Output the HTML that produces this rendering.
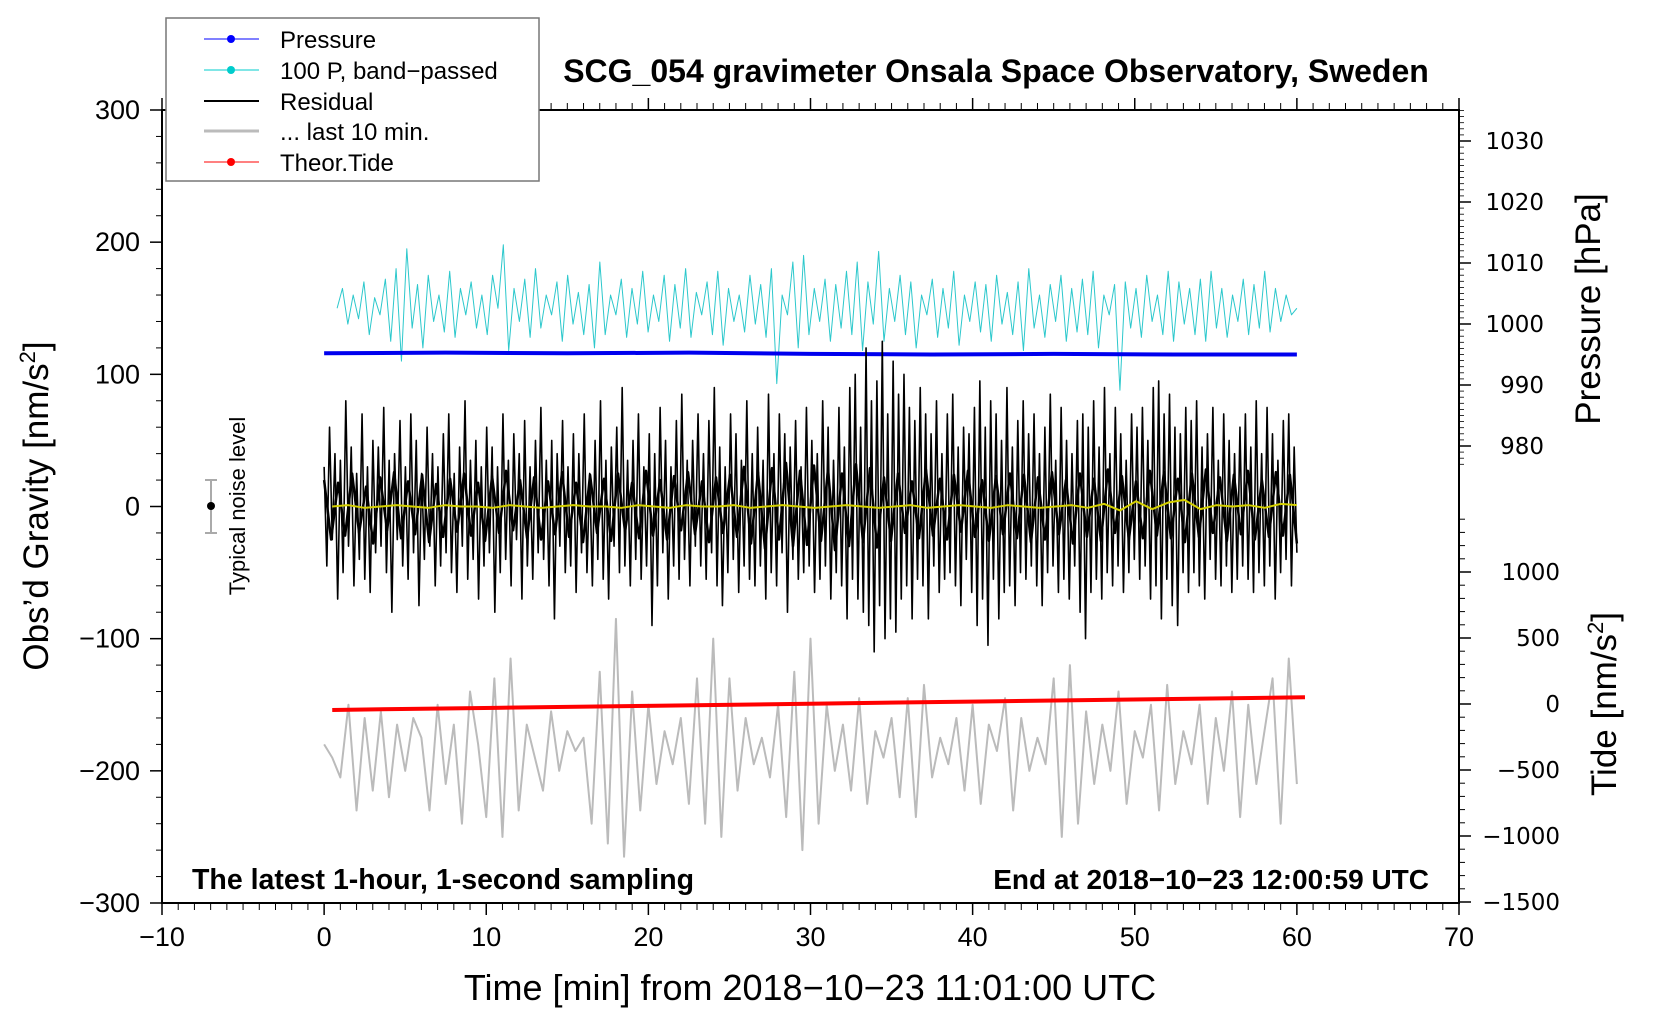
<!DOCTYPE html>
<html><head><meta charset="utf-8"><style>
html,body{margin:0;padding:0;background:#fff;}
svg{display:block;font-family:"Liberation Sans",Arial,sans-serif;}
</style></head><body>
<svg id="chart" width="1660" height="1020" viewBox="0 0 1660 1020" xmlns="http://www.w3.org/2000/svg">
<rect width="1660" height="1020" fill="#fff"/>
<g id="series"></g>
<g id="axes"></g>
<rect x="162" y="110" width="1297" height="793" fill="none" stroke="#000" stroke-width="2"/>
<text x="996" y="82" font-size="32" font-weight="bold" text-anchor="middle">SCG_054 gravimeter Onsala Space Observatory, Sweden</text>
<text x="810" y="1000" font-size="36" text-anchor="middle">Time [min] from 2018−10−23 11:01:00 UTC</text>
<text transform="translate(48,506) rotate(-90)" font-size="35" text-anchor="middle">Obs’d Gravity [nm/s<tspan font-size="22" dy="-13">2</tspan><tspan dy="13">]</tspan></text>
<text transform="translate(1600,309) rotate(-90)" font-size="35" text-anchor="middle">Pressure [hPa]</text>
<text transform="translate(1616,704) rotate(-90)" font-size="35" text-anchor="middle">Tide [nm/s<tspan font-size="22" dy="-13">2</tspan><tspan dy="13">]</tspan></text>
<text x="192" y="889" font-size="28.5" font-weight="bold">The latest 1-hour, 1-second sampling</text>
<text x="1429" y="889" font-size="28" font-weight="bold" text-anchor="end">End at 2018−10−23 12:00:59 UTC</text>
<g>
<line x1="211" y1="480" x2="211" y2="533" stroke="#aaa" stroke-width="2"/>
<line x1="205" y1="480" x2="217" y2="480" stroke="#aaa" stroke-width="2"/>
<line x1="205" y1="533" x2="217" y2="533" stroke="#aaa" stroke-width="2"/>
<circle cx="211" cy="506" r="4" fill="#000"/>
<text transform="translate(245,506) rotate(-90)" font-size="22" text-anchor="middle">Typical noise level</text>
</g>
<g>
<rect x="166" y="18" width="373" height="163" fill="#fff" stroke="#777" stroke-width="1.5"/>
<g><line x1="204" y1="39" x2="259" y2="39" stroke="#00f" stroke-width="1"/><circle cx="231" cy="39" r="4" fill="#00f"/><text x="280" y="48" font-size="24">Pressure</text></g>
<g><line x1="204" y1="70" x2="259" y2="70" stroke="#0cc" stroke-width="1"/><circle cx="231" cy="70" r="4" fill="#0cc"/><text x="280" y="79" font-size="24">100 P, band−passed</text></g>
<g><line x1="204" y1="101" x2="259" y2="101" stroke="#000" stroke-width="2"/><text x="280" y="110" font-size="24">Residual</text></g>
<g><line x1="204" y1="131" x2="259" y2="131" stroke="#bbb" stroke-width="3"/><text x="280" y="140" font-size="24">... last 10 min.</text></g>
<g><line x1="204" y1="162" x2="259" y2="162" stroke="#f00" stroke-width="1"/><circle cx="231" cy="162" r="4" fill="#f00"/><text x="280" y="171" font-size="24">Theor.Tide</text></g>
</g>
</svg>
<script>
const xTicks=[-10,0,10,20,30,40,50,60,70];
const gTicks=[-300,-200,-100,0,100,200,300];
const pTicks=[980,990,1000,1010,1020,1030];
const tTicks=[-1500,-1000,-500,0,500,1000];
const residual=[30,-45,60,-25,40,-70,35,-50,80,-30,45,-60,25,-40,70,-55,30,-65,50,-35,
45,-30,75,-50,35,-80,40,-25,65,-45,30,-55,70,-35,50,-75,25,-40,60,-30,
40,-60,30,-45,55,-35,70,-50,25,-65,45,-30,80,-55,35,-40,50,-70,30,-45,
60,-35,45,-80,30,-50,70,-40,35,-60,55,-25,40,-70,65,-45,30,-55,50,-35,
75,-40,35,-60,50,-85,40,-30,65,-50,30,-45,55,-65,40,-35,70,-50,25,-60,
50,-40,80,-55,35,-70,45,-30,60,-50,90,-45,35,-60,50,-40,70,-55,30,-45,
55,-90,40,-60,75,-35,50,-70,30,-45,65,-55,85,-40,35,-60,50,-30,70,-45,
40,-55,65,-35,90,-60,45,-75,30,-50,70,-40,55,-65,35,-45,80,-55,40,-60,
60,-45,35,-70,85,-50,40,-60,70,-35,55,-80,45,-40,65,-55,30,-50,75,-45,
50,-65,40,-55,80,-45,60,-70,35,-50,75,-60,45,-85,90,-55,100,-70,60,-80,
120,-90,80,-110,95,-75,125,-100,70,-85,110,-95,85,-70,100,-60,75,-85,65,-55,
90,-60,70,-85,55,-45,80,-65,40,-55,70,-50,85,-60,45,-75,60,-40,55,-65,
75,-90,95,-70,60,-105,80,-55,70,-85,50,-65,90,-60,45,-75,65,-50,80,-55,
55,-45,70,-60,40,-75,60,-50,85,-45,35,-65,75,-55,50,-70,40,-45,65,-80,
70,-100,60,-65,80,-55,45,-70,90,-50,40,-60,75,-45,55,-65,35,-50,70,-40,
60,-55,75,-45,50,-70,90,-60,95,-85,70,-55,85,-75,60,-90,55,-50,75,-65,
65,-50,80,-60,45,-70,55,-40,75,-55,35,-60,70,-45,50,-65,40,-55,60,-45,
70,-55,45,-65,80,-50,40,-60,75,-45,55,-70,35,-50,65,-40,70,-60,45,-35];
const residualCore=[20,-25,18,-22,25,-20,15,-28,22,-18,26,-24,19,-21,24,-27,17,-23,21,-19,
25,-22,18,-26,23,-20,27,-18,20,-24,22,-25,19,-21,26,-23,18,-27,24,-20,
21,-26,25,-19,18,-24,27,-22,20,-25,23,-18,26,-21,19,-27,22,-20,24,-23,
30,-28,26,-32,29,-25,33,-30,27,-29,31,-26,28,-33,25,-30,32,-27,29,-31,
22,-26,25,-20,19,-24,28,-22,21,-25,24,-19,27,-23,20,-26,23,-21,25,-24,
24,-27,22,-25,26,-21,20,-28,25,-23,21,-26,28,-20,23,-25,19,-24,27,-22,
26,-24,21,-27,25,-23,28,-20,22,-26,24,-21,27,-25,20,-23,26,-22,24,-28];
const bandPassed=[150,165,138,160,142,170,130,158,145,172,125,180,110,195,135,168,120,175,140,160,
132,178,128,165,145,170,135,160,130,175,150,198,118,165,140,172,128,180,135,160,
145,170,125,175,138,162,130,168,120,185,130,160,145,172,128,165,138,178,132,160,
140,175,125,168,135,180,128,162,145,170,130,178,122,165,140,160,132,175,138,168,
128,180,93,160,145,185,120,190,130,165,140,172,125,168,135,178,130,185,118,170,
138,193,125,165,140,175,130,170,120,160,145,172,128,165,135,178,122,160,140,170,
132,168,125,175,138,162,130,170,118,180,135,160,128,168,140,175,125,165,132,172,
130,178,120,160,145,168,88,170,135,165,128,175,140,160,130,178,125,170,138,165,
130,172,125,178,135,165,128,160,140,172,130,168,135,178,132,165,140,160,145,150];
const pressure=[995.2,995.3,995.2,995.3,995.1,995.0,995.1,995.0,995.0];
const last10=[-180,-190,-205,-150,-230,-160,-215,-155,-220,-165,-200,-160,-175,-230,-150,-210,-165,-240,-140,-180,
-235,-130,-250,-115,-230,-165,-190,-215,-155,-200,-170,-185,-175,-240,-125,-255,-85,-265,-140,-230,
-150,-210,-170,-195,-160,-225,-130,-240,-100,-250,-130,-215,-160,-195,-175,-205,-150,-235,-125,-260,
-100,-240,-150,-200,-165,-215,-145,-225,-170,-190,-160,-220,-145,-235,-135,-205,-175,-195,-160,-215,
-150,-225,-165,-185,-145,-230,-160,-200,-175,-195,-130,-250,-120,-240,-155,-210,-165,-200,-140,-225,
-170,-190,-150,-230,-135,-210,-170,-195,-150,-225,-160,-200,-140,-235,-150,-210,-170,-130,-240,-115,-210];
const smoothed=[0,1,-1,0,1,0,-1,1,0,0,-1,1,0,-1,0,1,0,0,-1,1,0,-1,1,0,0,1,-1,0,1,0,-1,0,1,0,-1,0,1,-1,0,1,0,-1,1,0,-1,0,1,-1,2,-3,4,-2,3,5,-2,1,0,1,-1,2,1];
const tide=[-45,-29,-13,3,19,35,51];

const SVGNS="http://www.w3.org/2000/svg";
const xs=t=>162+(t+10)*1297/80;
const yg=g=>506.5-g*793/600;
const yp=p=>141+(1030-p)*6.1;
const yt=v=>704-v*0.132;
const ser=document.getElementById('series'), ax=document.getElementById('axes');
function mk(tag,attrs,parent){const e=document.createElementNS(SVGNS,tag);for(const k in attrs)e.setAttribute(k,attrs[k]);parent.appendChild(e);return e;}
function line(arr,t0,t1,yf,color,w,name){
  const n=arr.length;let d='';
  arr.forEach((v,i)=>{const t=t0+(t1-t0)*i/(n-1);d+=(i?'L':'M')+xs(t).toFixed(2)+' '+yf(v).toFixed(2);});
  const p=mk('path',{d:d,fill:'none',stroke:color,'stroke-width':w,'stroke-linejoin':'round'},ser);
  
  
  return p;
}
line(bandPassed,0.8,60,yg,'#2cc8cc',1,'bandpassed-pressure-line');
line(pressure,0,60,yp,'#0000ee',4,'pressure-line');
line(residual,0,60,yg,'#000',1.6,'residual-line');
line(residualCore,0,60,yg,'#000',2.5,'residual-core-line');
line(smoothed,0.5,60,yg,'#d4d000',2,'smoothed-residual-line');
line(last10,0,60,yg,'#bbb',2,'last-10-min-line');
line(tide,0.5,60.5,yt,'#f00',4,'theoretical-tide-line');

for(let t=-10;t<=70;t++){
  const x=xs(t),major=t%10===0;
  const l1=mk('line',{x1:x,x2:x,y1:903,y2:903+(major?12:7),stroke:'#000','stroke-width':major?1.5:1},ax);
  
  
  const l2=mk('line',{x1:x,x2:x,y1:110,y2:110-(major?12:7),stroke:'#000','stroke-width':major?1.5:1},ax);
  
  
}
xTicks.forEach(t=>{
  const e=mk('text',{x:xs(t),y:946,'font-size':27,'text-anchor':'middle'},ax);e.textContent=String(t).replace('-','−');
  
  
});
for(let g=-300;g<=300;g+=20){
  const y=yg(g),major=g%100===0;
  const l=mk('line',{x1:162,x2:162-(major?12:6),y1:y,y2:y,stroke:'#000','stroke-width':major?1.5:1},ax);
  
  
}
gTicks.forEach(g=>{
  const e=mk('text',{x:140,y:yg(g)+9,'font-size':27,'text-anchor':'end'},ax);e.textContent=String(g).replace('-','−');
  
  
});
for(let p=977;p<=1035;p++){
  const y=yp(p);if(y<110)continue;const major=p%10===0;
  const l=mk('line',{x1:1459,x2:1459+(major?12:5),y1:y,y2:y,stroke:'#000','stroke-width':major?1.5:0.8},ax);
  
  
}
pTicks.forEach(p=>{
  const e=mk('text',{x:1544,y:yp(p)+8,'font-size':23,'text-anchor':'end','font-family':'DejaVu Sans, sans-serif'},ax);e.textContent=p;
  
  
});
for(let v=-1500;v<=1400;v+=100){
  const y=yt(v);if(y<yp(977))continue;const major=v%500===0;
  const l=mk('line',{x1:1459,x2:1459+(major?12:6),y1:y,y2:y,stroke:'#000','stroke-width':major?1.5:1},ax);
  
  
}
tTicks.forEach(v=>{
  const e=mk('text',{x:1560,y:yt(v)+8,'font-size':23,'text-anchor':'end','font-family':'DejaVu Sans, sans-serif'},ax);e.textContent=String(v).replace('-','−');
  
  
});
</script>
</body></html>
